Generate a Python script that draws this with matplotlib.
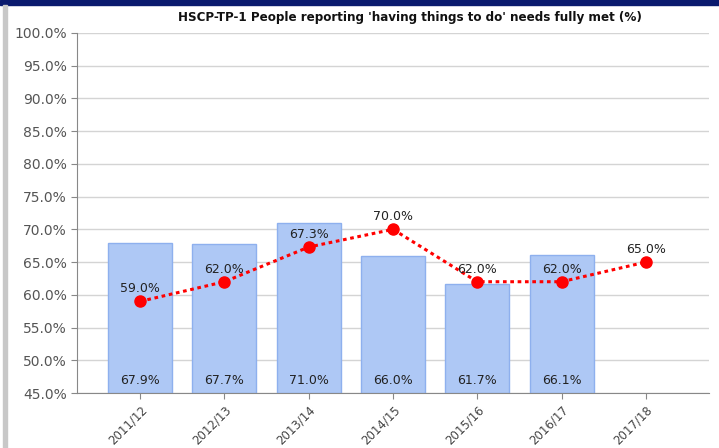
import numpy as np
import matplotlib.pyplot as plt
from matplotlib.ticker import FuncFormatter

# HSCP-TP-1: bars = local value, dotted line = comparator
years = ["2011/12", "2012/13", "2013/14", "2014/15", "2015/16", "2016/17", "2017/18"]
bar_vals = [67.9, 67.7, 71.0, 66.0, 61.7, 66.1]
line_vals = [59.0, 62.0, 67.3, 70.0, 62.0, 62.0, 65.0]

fig = plt.figure(figsize=(7.19, 4.48), dpi=100)
ax = fig.add_axes([77 / 719, 55 / 448, 632 / 719, 360 / 448])

x = np.arange(len(years))
ax.set_ylim(45, 100)
ax.set_xlim(-0.75, len(years) - 0.25)

ax.bar(x[:len(bar_vals)], [v - 45 for v in bar_vals], bottom=45, width=0.76,
       color="#aec8f5", edgecolor="#8eb0ee", linewidth=1, zorder=2)
for xi, v in zip(x, bar_vals):
    ax.text(xi, 45.9, f"{v:.1f}%", ha="center", va="bottom", fontsize=9,
            color="#222222", zorder=4)

ax.plot(x, line_vals, color="#ff0000", linestyle=(0, (1.2, 1.2)), linewidth=2.2,
        marker="o", markersize=8, zorder=3)
for xi, v in zip(x, line_vals):
    ax.text(xi, v + 0.9, f"{v:.1f}%", ha="center", va="bottom", fontsize=9,
            color="#222222", zorder=4)

ax.set_yticks(np.arange(45, 100.1, 5))
ax.yaxis.set_major_formatter(FuncFormatter(lambda v, p: f"{v:.1f}%"))
ax.set_xticks(x)
ax.set_xticklabels(years, rotation=45, ha="right", rotation_mode="anchor", fontsize=8.5,
                   color="#444444")
ax.tick_params(axis="y", labelsize=10, colors="#555555", length=4, color="#888888")
ax.tick_params(axis="x", length=4, color="#888888")
ax.grid(axis="y", color="#d4d4d4", linewidth=1, zorder=0)
ax.set_axisbelow(True)
for s in ["top", "right"]:
    ax.spines[s].set_visible(False)
for s in ["left", "bottom"]:
    ax.spines[s].set_color("#888888")

fig.text(410 / 719, 1 - 17 / 448, "HSCP-TP-1 People reporting 'having things to do' needs fully met (%)",
         ha="center", va="center", fontsize=9.5, fontweight="bold", fontstretch="condensed",
         color="#111111", family="DejaVu Sans")

# window frame decorations
fig.patches.append(plt.Rectangle((0, 1 - 5 / 448), 1, 5 / 448, transform=fig.transFigure,
                                 color="#0a1a6e", zorder=0))
fig.patches.append(plt.Rectangle((3 / 719, 0), 4 / 719, 1 - 5 / 448, transform=fig.transFigure,
                                 color="#c8c8c8", zorder=0))

fig.savefig("out.png", dpi=100)
